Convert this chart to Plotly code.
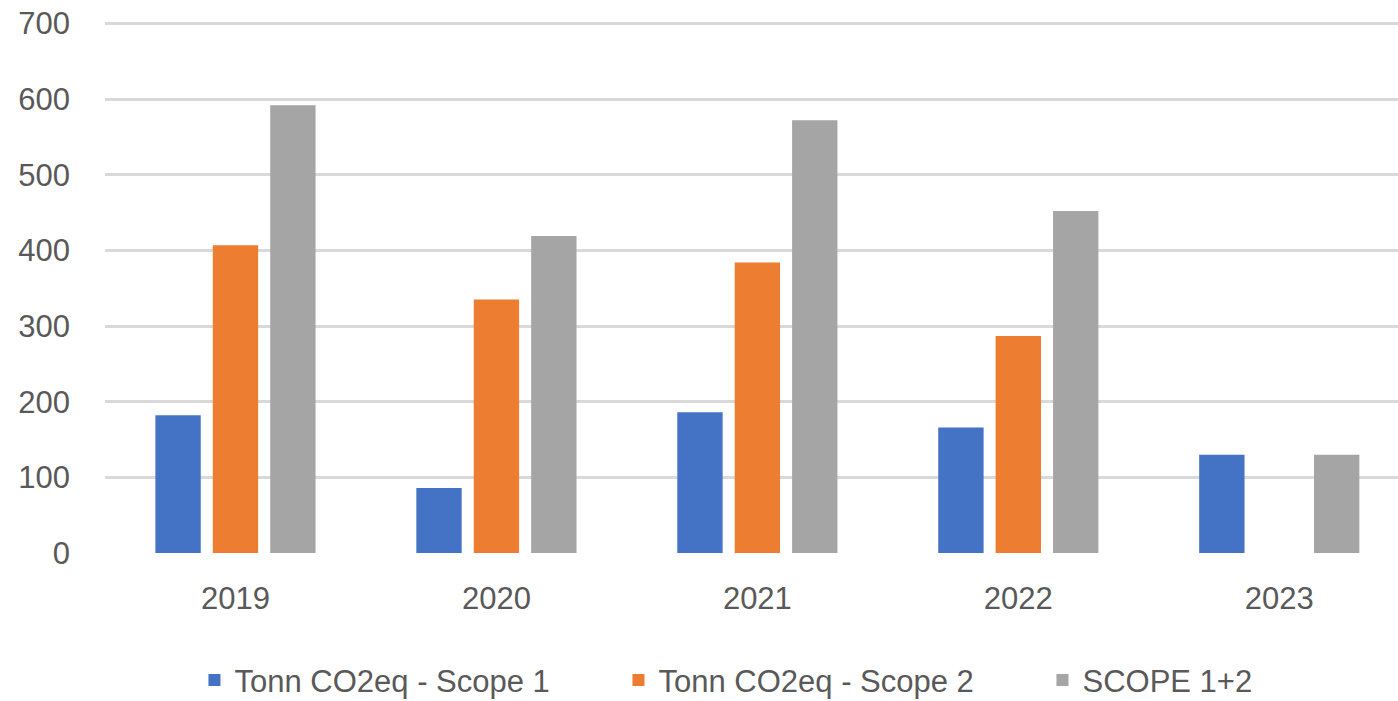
import plotly.graph_objects as go

years = ["2019", "2020", "2021", "2022", "2023"]
scope1 = [182, 86, 186, 166, 130]
scope2 = [407, 335, 384, 287, 0]
scope12 = [592, 419, 572, 452, 130]
y_ticks = [0, 100, 200, 300, 400, 500, 600, 700]

names = ["Tonn CO2eq - Scope 1", "Tonn CO2eq - Scope 2", "SCOPE 1+2"]
colors = ["#4472C4", "#ED7D31", "#A5A5A5"]

fig = go.Figure()
for name, vals, col in zip(names, [scope1, scope2, scope12], colors):
    fig.add_trace(go.Bar(x=years, y=vals, name=name, marker=dict(color=col, line=dict(width=0))))

font = dict(family="Liberation Sans, Arial, sans-serif", size=31, color="#595959")
fig.update_layout(
    width=1398, height=701,
    margin=dict(l=105, r=0, t=22, b=148, autoexpand=False),
    paper_bgcolor="white", plot_bgcolor="white",
    barmode="group", bargap=0.34, bargroupgap=0.21,
    font=font,
    showlegend=True,
    legend=dict(orientation="h", xref="container", x=0.1391, xanchor="left",
                y=-0.24, yanchor="middle",
                font=font, entrywidth=379, entrywidthmode="pixels",
                itemwidth=30, traceorder="normal"),
    xaxis=dict(type="category", range=[-0.5, 4.455], showgrid=False, zeroline=False,
               showline=False, ticks="", ticklabelstandoff=24, tickfont=font),
    yaxis=dict(range=[0, 702], tickvals=y_ticks, showgrid=True, gridcolor="#D9D9D9",
               gridwidth=3, zeroline=False, showline=False, ticks="",
               ticklabelstandoff=34, tickfont=font, ticklabeloverflow="allow"),
)
fig.write_html("out.html", config={"displayModeBar": False},
               post_script="document.body.style.margin='0';document.body.style.overflow='hidden';")
